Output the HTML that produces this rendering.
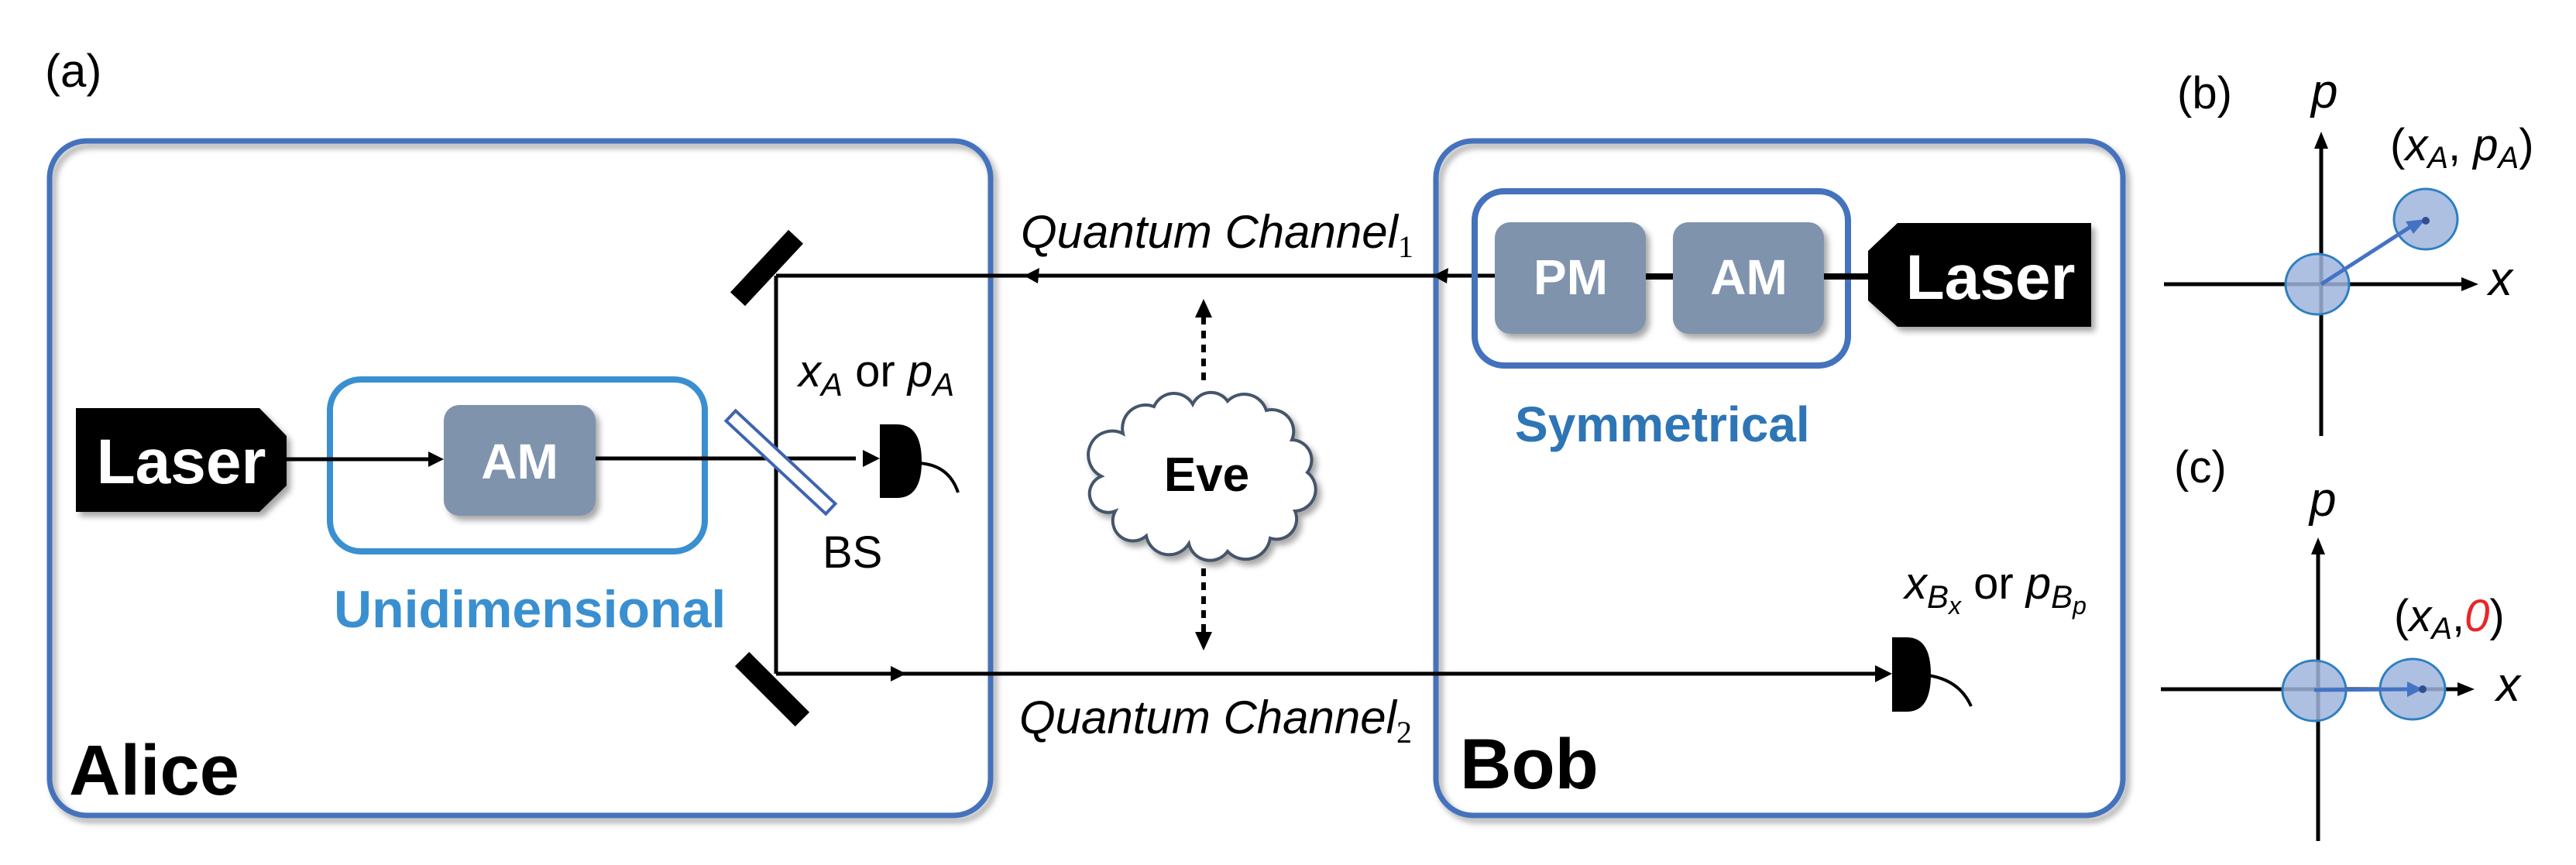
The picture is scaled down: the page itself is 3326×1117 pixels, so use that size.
<!DOCTYPE html>
<html><head><meta charset="utf-8"><style>
html,body{margin:0;padding:0;background:#fff;}
svg{display:block;font-family:"Liberation Sans",Arial,sans-serif;}
</style></head><body>
<svg width="3326" height="1117" viewBox="0 0 3326 1117" xmlns="http://www.w3.org/2000/svg">
<defs>
<filter id="sh" x="-20%" y="-20%" width="150%" height="150%"><feDropShadow dx="5" dy="6" stdDeviation="4" flood-color="#000" flood-opacity="0.35"/></filter>
</defs>
<!-- (a) -->
<text x="58" y="112" font-size="60">(a)</text>

<!-- Alice box -->
<rect x="64" y="182" width="1215" height="871" rx="48" fill="none" stroke="#4472bc" stroke-width="7" filter="url(#sh)"/>
<!-- Bob box -->
<rect x="1854" y="182" width="887" height="871" rx="48" fill="none" stroke="#4472bc" stroke-width="7" filter="url(#sh)"/>

<!-- Alice laser -->
<polygon points="98,527 335,527 370,563 370,627 335,661 98,661" fill="#000" filter="url(#sh)"/>
<text x="234" y="624" font-size="82" font-weight="bold" fill="#fff" text-anchor="middle">Laser</text>
<!-- Unidimensional box -->
<rect x="426" y="490" width="484" height="222" rx="40" fill="none" stroke="#3a8fd0" stroke-width="8"/>
<line x1="370" y1="593" x2="560" y2="593" stroke="#000" stroke-width="5"/>
<polygon points="573,593 553,583 553,603" fill="#000"/>
<rect x="573" y="523" width="196" height="143" rx="20" fill="#7f93ad" filter="url(#sh)"/>
<text x="671" y="618" font-size="64" font-weight="bold" fill="#fff" text-anchor="middle">AM</text>
<line x1="769" y1="592" x2="1105" y2="592" stroke="#000" stroke-width="5"/>
<polygon points="1136,592 1114,581 1114,603" fill="#000"/>
<text x="431" y="810" font-size="68" font-weight="bold" fill="#3a8fd0">Unidimensional</text>
<text x="89" y="1026" font-size="92" font-weight="bold">Alice</text>

<!-- vertical path and mirrors -->
<line x1="1002" y1="356" x2="1002" y2="870" stroke="#000" stroke-width="5"/>
<rect x="935" y="333" width="110" height="26" fill="#000" transform="rotate(-47 990 346)"/>
<rect x="942" y="877" width="110" height="26" fill="#000" transform="rotate(45 997 890)"/>
<!-- BS -->
<rect x="920" y="588" width="176" height="18" fill="#fff" stroke="#3e64b0" stroke-width="4" transform="rotate(43 1008 597)"/>
<text x="1062" y="733" font-size="58">BS</text>
<!-- Alice detector -->
<path d="M1136,548 L1158,548 Q1190,548 1190,596 Q1190,643 1158,643 L1136,643 Z" fill="#000"/>
<path d="M1186,598 Q1225,600 1237,636" fill="none" stroke="#000" stroke-width="4"/>
<text x="1031" y="499" font-size="58"><tspan font-style="italic">x</tspan><tspan font-style="italic" font-size="42" dy="12">A</tspan><tspan dy="-12"> or </tspan><tspan font-style="italic">p</tspan><tspan font-style="italic" font-size="42" dy="12">A</tspan></text>

<!-- Channel 1 -->
<line x1="1002" y1="356" x2="1930" y2="356" stroke="#000" stroke-width="5"/>
<polygon points="1322,356 1342,346 1340,366" fill="#000"/>
<polygon points="1850,356 1870,346 1868,366" fill="#000"/>
<text x="1318" y="320" font-size="60" font-style="italic">Quantum Channel<tspan font-size="40" font-style="normal" font-family="Liberation Serif,serif" dy="12">1</tspan></text>
<!-- Channel 2 -->
<line x1="1002" y1="870" x2="2425" y2="870" stroke="#000" stroke-width="5"/>
<polygon points="1170,870 1150,860 1150,880" fill="#000"/>
<polygon points="2443,870 2421,859 2421,881" fill="#000"/>
<text x="1316" y="947" font-size="60" font-style="italic">Quantum Channel<tspan font-size="40" font-style="normal" font-family="Liberation Serif,serif" dy="12">2</tspan></text>

<!-- Eve -->
<path d="M1450,560 A30,30 0 0 1 1490,525 A28,28 0 0 1 1540,522 A26,26 0 0 1 1585,518 A30,30 0 0 1 1635,530 A28,28 0 0 1 1668,568 A26,26 0 0 1 1688,610 A28,28 0 0 1 1672,660 A26,26 0 0 1 1640,695 A32,32 0 0 1 1585,712 A28,28 0 0 1 1535,702 A30,30 0 0 1 1480,692 A26,26 0 0 1 1440,660 A24,24 0 0 1 1422,615 A30,30 0 0 1 1450,560 Z" fill="#fff" stroke="#44546a" stroke-width="4" filter="url(#sh)"/>
<text x="1558" y="634" font-size="62" font-weight="bold" text-anchor="middle">Eve</text>
<line x1="1554" y1="491" x2="1554" y2="408" stroke="#000" stroke-width="6" stroke-dasharray="10,8"/>
<polygon points="1554,386 1543,410 1565,410" fill="#000"/>
<line x1="1554" y1="734" x2="1554" y2="818" stroke="#000" stroke-width="6" stroke-dasharray="10,8"/>
<polygon points="1554,840 1543,816 1565,816" fill="#000"/>

<!-- Bob internals -->
<rect x="1904" y="247" width="482" height="225" rx="38" fill="none" stroke="#4472bc" stroke-width="8"/>
<line x1="1930" y1="357" x2="2412" y2="357" stroke="#000" stroke-width="8"/>
<rect x="1930" y="287" width="195" height="144" rx="20" fill="#7f93ad" filter="url(#sh)"/>
<text x="2028" y="380" font-size="64" font-weight="bold" fill="#fff" text-anchor="middle">PM</text>
<rect x="2160" y="287" width="195" height="144" rx="20" fill="#7f93ad" filter="url(#sh)"/>
<text x="2258" y="380" font-size="64" font-weight="bold" fill="#fff" text-anchor="middle">AM</text>
<polygon points="2450,288 2700,288 2700,422 2450,422 2412,388 2412,324" fill="#000" filter="url(#sh)"/>
<text x="2570" y="386" font-size="82" font-weight="bold" fill="#fff" text-anchor="middle">Laser</text>
<text x="1956" y="570" font-size="64" font-weight="bold" fill="#2e75b6">Symmetrical</text>
<text x="1885" y="1018" font-size="92" font-weight="bold">Bob</text>
<!-- Bob detector -->
<path d="M2443,823 L2462,823 Q2493,823 2493,871 Q2493,919 2462,919 L2443,919 Z" fill="#000"/>
<path d="M2489,872 Q2530,878 2545,912" fill="none" stroke="#000" stroke-width="4"/>
<text x="2459" y="773" font-size="58"><tspan font-style="italic">x</tspan><tspan font-style="italic" font-size="42" dy="12">B</tspan><tspan font-style="italic" font-size="32" dy="8">x</tspan><tspan dy="-20"> or </tspan><tspan font-style="italic">p</tspan><tspan font-style="italic" font-size="42" dy="12">B</tspan><tspan font-style="italic" font-size="32" dy="8">p</tspan></text>

<!-- (b) -->
<text x="2811" y="140" font-size="58">(b)</text>
<text x="2984" y="139" font-size="62" font-style="italic">p</text>
<line x1="2997" y1="190" x2="2997" y2="563" stroke="#000" stroke-width="5"/>
<polygon points="2997,170 2988,192 3006,192" fill="#000"/>
<line x1="2794" y1="367" x2="3182" y2="367" stroke="#000" stroke-width="5"/>
<polygon points="3200,367 3178,358 3178,376" fill="#000"/>
<text x="3213" y="381" font-size="62" font-style="italic">x</text>
<ellipse cx="2992" cy="367" rx="41" ry="39" fill="#9fb5dd" fill-opacity="0.85" stroke="#2e7fc0" stroke-width="3"/>
<ellipse cx="3132" cy="283" rx="41" ry="39" fill="#9fb5dd" fill-opacity="0.85" stroke="#2e7fc0" stroke-width="3"/>
<line x1="2997" y1="367" x2="3112" y2="293" stroke="#4472c4" stroke-width="5"/>
<polygon points="3132,283 3106,286 3116,302" fill="#4472c4"/>
<circle cx="3132" cy="285" r="5" fill="#2f4f8f"/>
<text x="3086" y="207" font-size="58">(<tspan font-style="italic">x</tspan><tspan font-style="italic" font-size="40" dy="10">A</tspan><tspan dy="-10">, </tspan><tspan font-style="italic">p</tspan><tspan font-style="italic" font-size="40" dy="10">A</tspan><tspan dy="-10">)</tspan></text>

<!-- (c) -->
<text x="2807" y="623" font-size="58">(c)</text>
<text x="2982" y="666" font-size="62" font-style="italic">p</text>
<line x1="2993" y1="714" x2="2993" y2="1086" stroke="#000" stroke-width="5"/>
<polygon points="2993,694 2984,716 3002,716" fill="#000"/>
<line x1="2790" y1="890" x2="3177" y2="890" stroke="#000" stroke-width="5"/>
<polygon points="3195,890 3173,881 3173,899" fill="#000"/>
<text x="3223" y="905" font-size="62" font-style="italic">x</text>
<ellipse cx="2988" cy="892" rx="41" ry="39" fill="#9fb5dd" fill-opacity="0.85" stroke="#2e7fc0" stroke-width="3"/>
<ellipse cx="3115" cy="890" rx="42" ry="39" fill="#9fb5dd" fill-opacity="0.85" stroke="#2e7fc0" stroke-width="3"/>
<line x1="2988" y1="891" x2="3110" y2="890" stroke="#4472c4" stroke-width="5"/>
<polygon points="3128,890 3108,880 3108,900" fill="#4472c4"/>
<circle cx="3128" cy="890" r="5" fill="#2f4f8f"/>
<text x="3091" y="815" font-size="58">(<tspan font-style="italic">x</tspan><tspan font-style="italic" font-size="40" dy="10">A</tspan><tspan dy="-10">,</tspan><tspan font-style="italic" fill="#e8262a">0</tspan>)</text>
</svg>
</body></html>
